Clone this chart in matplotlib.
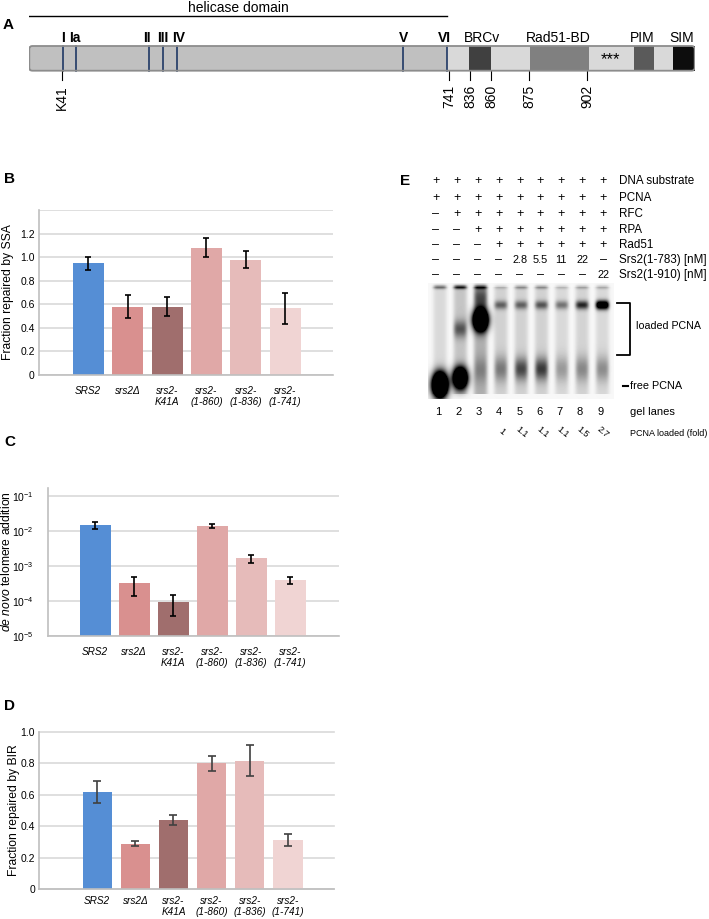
import numpy as np
import matplotlib
matplotlib.use("Agg")
import matplotlib.pyplot as plt
from matplotlib.patches import Rectangle, FancyBboxPatch
from matplotlib.ticker import LogLocator, LogFormatterMathtext, NullLocator

plt.rcParams['font.family'] = ['Liberation Sans', 'DejaVu Sans']
plt.rcParams['mathtext.fontset'] = 'custom'
plt.rcParams['mathtext.rm'] = 'Liberation Sans'
plt.rcParams['mathtext.it'] = 'Liberation Sans:italic'

# ---- data ----
strains = ["SRS2", "srs2Δ", "srs2-\nK41A", "srs2-\n(1-860)", "srs2-\n(1-836)", "srs2-\n(1-741)"]
bar_colors = ['#558ED5', '#D9908F', '#A06E6D', '#E0A8A7', '#E6BBBA', '#F0D4D3']

ssa_vals = [0.95, 0.58, 0.58, 1.08, 0.98, 0.565]
ssa_err = [0.055, 0.095, 0.08, 0.08, 0.075, 0.13]

telo_vals = [1.45e-2, 3.2e-4, 9.2e-5, 1.39e-2, 1.66e-3, 3.9e-4]
telo_lo = [1.12e-2, 1.35e-4, 3.7e-5, 1.22e-2, 1.25e-3, 3.1e-4]
telo_hi = [1.85e-2, 4.9e-4, 1.48e-4, 1.62e-2, 2.06e-3, 5.0e-4]

bir_vals = [0.62, 0.29, 0.44, 0.80, 0.815, 0.315]
bir_err = [0.07, 0.018, 0.03, 0.047, 0.098, 0.039]

# panel A schematic (units along the bar)
seg_edges = [0, 417.4, 440, 462, 500.4, 559.7, 604.7, 624.7, 644, 665.4]
seg_colors = ['#C0C0C0', '#D9D9D9', '#404040', '#D9D9D9', '#808080', '#D9D9D9', '#5A5A5A', '#D9D9D9', '#0D0D0D']
motif_names = ['I', 'Ia', 'II', 'III', 'IV', 'V', 'VI']
motif_pos = [33.4, 46.7, 119.7, 133.7, 148, 374, 417.4]
motif_lab_pos = [33.4, 46.0, 117.5, 133.7, 149.7, 374, 415.5]
domain_names = ['BRCv', 'Rad51-BD', 'PIM', 'SIM']
domain_pos = [453, 529.2, 612.7, 652.2]
site_names = ['K41', '741', '836', '860', '875', '902']
site_pos = [32.4, 419.7, 440.7, 462, 499.7, 558]

# panel E
row_labels = ["DNA substrate", "PCNA", "RFC", "RPA", "Rad51", "Srs2(1-783) [nM]", "Srs2(1-910) [nM]"]
m = '\u2013'
row_values = [
    ['+'] * 9,
    ['+'] * 9,
    [m] + ['+'] * 8,
    [m, m] + ['+'] * 7,
    [m, m, m] + ['+'] * 6,
    [m, m, m, m, '2.8', '5.5', '11', '22', m],
    [m] * 8 + ['22'],
]
fold_loaded = ['1', '1.1', '1.1', '1.1', '1.5', '2.7']
# gel bands: lane (1-based), migration (px), intensity, vertical spread
band_lane = [1, 2, 3, 4, 5, 6, 7, 8, 9,
             4, 5, 6, 7, 8, 9,
             3, 3, 2,
             1, 2, 3, 4, 5, 6, 7, 8, 9]
band_y = [287, 287, 287, 287, 287, 287, 287, 287, 287,
          305, 305, 305, 305, 305, 305,
          320, 298, 329,
          385, 378, 370, 369, 369, 369, 369, 369, 369]
band_int = [0.45, 0.75, 0.6, 0.15, 0.3, 0.3, 0.15, 0.22, 0.2,
            0.45, 0.45, 0.5, 0.4, 0.7, 1.4,
            3.0, 0.4, 0.45,
            3.5, 2.5, 0.2, 0.35, 0.55, 0.6, 0.25, 0.3, 0.3]
band_sy = [1.5] * 9 + [3.0] * 6 + [7, 8, 6] + [8, 7, 9, 9, 8, 8, 9, 9, 9]
lane_haze = [0.12, 0.2, 0.28, 0.15, 0.15, 0.15, 0.12, 0.14, 0.12]

W, H = 709, 919
fig = plt.figure(figsize=(W / 100, H / 100), dpi=100)


def px_axes(x0, y0, x1, y1):
    return fig.add_axes([x0 / W, 1 - y1 / H, (x1 - x0) / W, (y1 - y0) / H])


def style_bar_axes(ax):
    for s in ['top', 'right']:
        ax.spines[s].set_visible(False)
    for s in ['left', 'bottom']:
        ax.spines[s].set_color('#BFBFBF')
        ax.spines[s].set_linewidth(1.2)
    ax.tick_params(length=0, labelsize=7.5)
    ax.set_axisbelow(True)
    ax.set_xticks(range(len(strains)))
    ax.set_xticklabels(strains, fontstyle='italic', fontsize=7.2, linespacing=1.1, va='top')


# ---- panel B ----
axB = px_axes(39, 210, 333, 375)
axB.bar(range(6), ssa_vals, width=0.79, color=bar_colors, zorder=2)
axB.errorbar(range(6), ssa_vals, yerr=ssa_err, fmt='none', ecolor='black',
             elinewidth=1.2, capsize=2.5, capthick=1.2, zorder=3)
axB.set_xlim(-1.25, 6.21)
axB.set_ylim(0, 1.4)
axB.set_yticks(np.arange(0, 1.41, 0.2))
axB.set_yticklabels(['0', '0.2', '0.4', '0.6', '0.8', '1.0', '1.2', ''])
axB.yaxis.grid(True, color='#D9D9D9', linewidth=1.2)
style_bar_axes(axB)
axB.tick_params(axis='y', pad=3)
axB.tick_params(axis='x', pad=8)
axB.set_ylabel("Fraction repaired by SSA", fontsize=8.7)
axB.yaxis.set_label_coords((14 - 39) / 294, 0.5)

# ---- panel C ----
axC = px_axes(47.7, 488, 339, 636)
axC.bar(range(6), telo_vals, width=0.79, color=bar_colors, zorder=2)
yerr_c = [np.subtract(telo_vals, telo_lo), np.subtract(telo_hi, telo_vals)]
axC.errorbar(range(6), telo_vals, yerr=yerr_c, fmt='none', ecolor='black',
             elinewidth=1.2, capsize=2.5, capthick=1.2, zorder=3)
axC.set_yscale('log')
axC.set_xlim(-1.22, 6.25)
axC.set_ylim(1e-5, 10 ** -0.77)
axC.yaxis.set_major_locator(LogLocator(base=10, numticks=10))
axC.yaxis.set_major_formatter(LogFormatterMathtext())
axC.yaxis.set_minor_locator(NullLocator())
axC.yaxis.grid(True, color='#D9D9D9', linewidth=1.2)
style_bar_axes(axC)
axC.tick_params(axis='y', pad=10, labelsize=7.5)
axC.tick_params(axis='x', pad=8)
axC.set_ylabel(r"$\mathit{de\ novo}$ telomere addition", fontsize=8.7)
axC.yaxis.set_label_coords((13 - 47.7) / 291.3, 0.5)

# ---- panel D ----
axD = px_axes(39.3, 731.7, 334, 889.3)
axD.bar(range(6), bir_vals, width=0.77, color=bar_colors, zorder=2)
axD.errorbar(range(6), bir_vals, yerr=bir_err, fmt='none', ecolor='#404040',
             elinewidth=1.2, capsize=3, capthick=1.2, zorder=3)
axD.set_xlim(-1.52, 6.21)
axD.set_ylim(0, 1.0)
axD.set_yticks(np.arange(0, 1.01, 0.2))
axD.set_yticklabels(['0', '0.2', '0.4', '0.6', '0.8', '1.0'])
axD.yaxis.grid(True, color='#D9D9D9', linewidth=1.2)
for gl in axD.get_ygridlines():
    gl.set_clip_on(False)
style_bar_axes(axD)
axD.tick_params(axis='y', pad=3)
axD.tick_params(axis='x', pad=5)
axD.set_ylabel("Fraction repaired by BIR", fontsize=8.7)
axD.yaxis.set_label_coords((20 - 39.3) / 294.7, 0.5)

# ---- panel A ----
axA = px_axes(29.3, 0, 694.7, 120)
axA.set_xlim(0, 665.4)
axA.set_ylim(120, 0)
axA.axis('off')
for x0, x1, c in zip(seg_edges[:-1], seg_edges[1:], seg_colors):
    axA.add_patch(Rectangle((x0, 46), x1 - x0, 24.7, facecolor=c, edgecolor='none', zorder=1))
axA.add_patch(FancyBboxPatch((0, 46), 665.4, 24.7, boxstyle='round,pad=0,rounding_size=3',
                             facecolor='none', edgecolor='#8C8C8C', linewidth=1.3, zorder=3))
for x in motif_pos:
    axA.plot([x, x], [46, 70.7], color='#1F3864', lw=1.2, zorder=2)
for name, x in zip(motif_names, motif_lab_pos):
    axA.text(x, 41.5, name, ha='center', va='baseline', fontsize=10, fontweight='bold')
for name, x in zip(domain_names, domain_pos):
    axA.text(x, 41.5, name, ha='center', va='baseline', fontsize=10)
axA.text(581.4, 64.5, '***', ha='center', va='baseline', fontsize=12)
for name, x in zip(site_names, site_pos):
    axA.plot([x, x], [70.7, 80], color='black', lw=0.8, zorder=2)
    axA.text(x, 85, name, ha='center', va='top', rotation=90, fontsize=10)
axA.plot([0, 417.4], [16, 16], color='black', lw=1.0)
axA.text(208.7, 12.5, 'helicase domain', ha='center', va='baseline', fontsize=10)

# ---- overlay for panel letters and panel E ----
ov = fig.add_axes([0, 0, 1, 1])
ov.set_xlim(0, W)
ov.set_ylim(H, 0)
ov.axis('off')
ov.patch.set_visible(False)

for letter, (x, y) in zip("ABCDE", [(3, 25), (4, 179), (4, 442), (4, 706), (400, 181)]):
    ov.text(x, y, letter, fontsize=11, fontweight='bold', ha='left', va='center')

col_x = 436 + 20.9 * np.arange(9)
row_y = [181, 198, 214, 230, 245, 260, 275]
for lab, vals, y in zip(row_labels, row_values, row_y):
    for x, v in zip(col_x, vals):
        ov.text(x, y, v, ha='center', va='center', fontsize=7.8 if v not in ('+', m) else 9)
    ov.text(619, y, lab, ha='left', va='center', fontsize=8.4)

# gel image
gx0, gx1, gy0, gy1 = 428, 614, 283, 399
xs = np.arange(gx0, gx1) + 0.5
ys = np.arange(gy0, gy1) + 0.5
XX, YY = np.meshgrid(xs, ys)
lane_x = 440 + 20.3 * np.arange(9)
dark = np.full(XX.shape, 0.03)
for i, lx in enumerate(lane_x):
    prof = np.exp(-((XX - lx) / 7.0) ** 4)
    dark += lane_haze[i] * prof * (YY > 287) * (YY < 394)
for ln, by, bi, bs in zip(band_lane, band_y, band_int, band_sy):
    lx = lane_x[ln - 1]
    if bi > 2:
        xterm = (XX - lx) ** 2 / (2 * 5.0 ** 2)
    else:
        xterm = ((XX - lx) / 6.5) ** 4
    dark += bi * np.exp(-xterm - (YY - by) ** 2 / (2 * bs ** 2))
img = 1 - np.clip(dark, 0, 1)
ov.imshow(img, cmap='gray', vmin=0, vmax=1, extent=(gx0, gx1, gy1, gy0),
          aspect='auto', interpolation='bilinear', zorder=1)
ov.set_xlim(0, W)
ov.set_ylim(H, 0)

# bracket and markers
ov.plot([617, 630, 630, 617], [303, 303, 355, 355], color='black', lw=1.3)
ov.text(636, 326, 'loaded PCNA', ha='left', va='center', fontsize=7.7)
ov.plot([623, 628], [386, 386], color='black', lw=1.5)
ov.text(630, 386, 'free PCNA', ha='left', va='center', fontsize=7.8)

for i, x in enumerate(lane_x):
    ov.text(x - 2, 412, str(i + 1), ha='center', va='center', fontsize=8)
ov.text(630, 412, 'gel lanes', ha='left', va='center', fontsize=8)
for x, f in zip(lane_x[3:], fold_loaded):
    ov.text(x + 1, 432, f, ha='center', va='center', fontsize=6.5, rotation=-40)
ov.text(630, 433, 'PCNA loaded (fold)', ha='left', va='center', fontsize=6.5)

fig.savefig("out.png", dpi=100)
